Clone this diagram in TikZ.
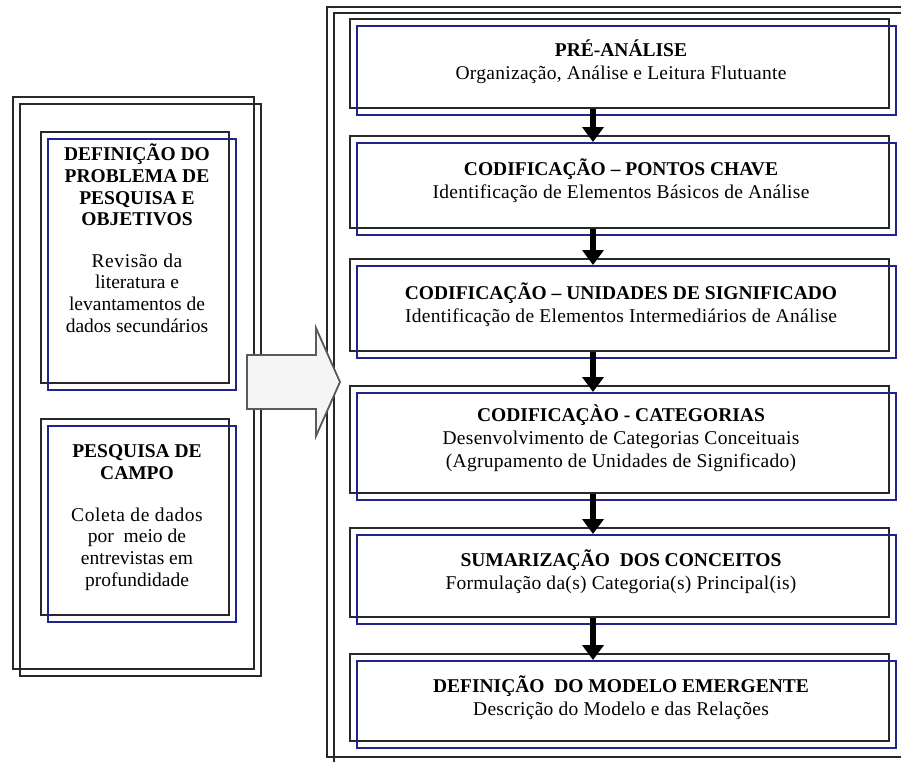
\documentclass[tikz,border=0pt]{standalone}
\usepackage{fontspec}
\setmainfont{Liberation Serif}
\newfontfamily\spacedserif[LetterSpace=3]{Liberation Serif}
\newfontfamily\slightserif[LetterSpace=1.5]{Liberation Serif}
\usetikzlibrary{arrows.meta}
\definecolor{frameblue}{RGB}{35,35,140}
\definecolor{lineblk}{RGB}{40,40,40}
\definecolor{arrowfill}{RGB}{245,245,245}
\definecolor{arrowedge}{RGB}{90,90,90}
\begin{document}
\begin{tikzpicture}[x=1pt,y=-1pt,
  frame/.style={draw=lineblk,line width=1.5pt},
  blk/.style={draw=lineblk,line width=1.5pt,inner sep=0pt,anchor=north west},
  blu/.style={draw=frameblue,line width=1.5pt,inner sep=0pt,anchor=north west},
  lefttxt/.style={font=\fontsize{19.5}{21.7}\selectfont,align=center,inner sep=0pt},
  righttxt/.style={font=\fontsize{19.5}{23}\selectfont,align=center,inner sep=0pt},
  flow/.style={draw=black,line width=5.5pt,-{Triangle[width=21pt,length=15pt]}}
]
\useasboundingbox (0,0) rectangle (901,761);
\clip (0,0) rectangle (901,761);
% ---------- left frames ----------
\draw[frame] (13,97) rectangle (254,669);
\draw[frame] (20,104) rectangle (261,676);
% ---------- right frames ----------
\draw[frame] (327,7) rectangle (920,757);
\draw[frame] (334,13) rectangle (920,780);
% ---------- left boxes ----------
\node[blk,minimum width=188pt,minimum height=251pt] (L1) at (40,131) {};
\node[blu,minimum width=188pt,minimum height=251pt] (L1b) at (47,138) {};
\node[blk,minimum width=188pt,minimum height=196pt] (L2) at (40,418) {};
\node[blu,minimum width=188pt,minimum height=196pt] (L2b) at (47,425) {};
\node[lefttxt] (L1t) at (137,185) {\textbf{DEFINIÇÃO DO}\\\textbf{PROBLEMA DE}\\\textbf{PESQUISA E}\\\textbf{OBJETIVOS}};
\node[lefttxt] (L1d) at (137,293) {\spacedserif Revisão da\\literatura e\\levantamentos de\\dados secundários};
\node[lefttxt] (L2t) at (137,462) {\textbf{PESQUISA DE}\\\textbf{CAMPO}};
\node[lefttxt] (L2d) at (137,549) {\spacedserif Coleta de dados\\por\ \ meio de\\entrevistas em\\profundidade};
% ---------- right boxes ----------
\node[blk,minimum width=539pt,minimum height=89pt] (R1) at (349,18) {};
\node[blu,minimum width=539pt,minimum height=89pt] (R1b) at (356,25) {};
\node[blk,minimum width=539pt,minimum height=92pt] (R2) at (349,135) {};
\node[blu,minimum width=539pt,minimum height=92pt] (R2b) at (356,142) {};
\node[blk,minimum width=539pt,minimum height=92pt] (R3) at (349,258) {};
\node[blu,minimum width=539pt,minimum height=92pt] (R3b) at (356,265) {};
\node[blk,minimum width=539pt,minimum height=107pt] (R4) at (349,385) {};
\node[blu,minimum width=539pt,minimum height=107pt] (R4b) at (356,392) {};
\node[blk,minimum width=539pt,minimum height=89pt] (R5) at (349,527) {};
\node[blu,minimum width=539pt,minimum height=89pt] (R5b) at (356,534) {};
\node[blk,minimum width=539pt,minimum height=87pt] (R6) at (349,653) {};
\node[blu,minimum width=539pt,minimum height=87pt] (R6b) at (356,660) {};
\node[righttxt] (R1t) at (621,62) {\textbf{PRÉ-ANÁLISE}\\{\slightserif Organização, Análise e Leitura Flutuante}};
\node[righttxt] (R2t) at (621,181) {\textbf{CODIFICAÇÃO – PONTOS CHAVE}\\{\slightserif Identificação de Elementos Básicos de Análise}};
\node[righttxt] (R3t) at (621,305) {\textbf{CODIFICAÇÃO – UNIDADES DE SIGNIFICADO}\\{\slightserif Identificação de Elementos Intermediários de Análise}};
\node[righttxt] (R4t) at (621,438) {\textbf{CODIFICAÇÀO - CATEGORIAS}\\{\slightserif Desenvolvimento de Categorias Conceituais}\\{\slightserif (Agrupamento de Unidades de Significado)}};
\node[righttxt] (R5t) at (621,572) {\textbf{SUMARIZAÇÃO\ \ DOS CONCEITOS}\\{\slightserif Formulação da(s) Categoria(s) Principal(is)}};
\node[righttxt] (R6t) at (621,698) {\textbf{DEFINIÇÃO\ \ DO MODELO EMERGENTE}\\{\slightserif Descrição do Modelo e das Relações}};
% ---------- flow arrows ----------
\coordinate (ax) at (593,0);
\draw[flow] (R1.south -| ax) -- (R2b.north -| ax);
\draw[flow] (R2.south -| ax) -- (R3b.north -| ax);
\draw[flow] (R3.south -| ax) -- (R4b.north -| ax);
\draw[flow] (R4.south -| ax) -- (R5b.north -| ax);
\draw[flow] (R5.south -| ax) -- (R6b.north -| ax);
% ---------- big block arrow ----------
\draw[draw=arrowedge,fill=arrowfill,line width=1.8pt,line join=miter]
  (247,355) -- (316,355) -- (316,328) -- (340,382) -- (316,436) -- (316,409) -- (247,409) -- cycle;
\end{tikzpicture}
\end{document}
